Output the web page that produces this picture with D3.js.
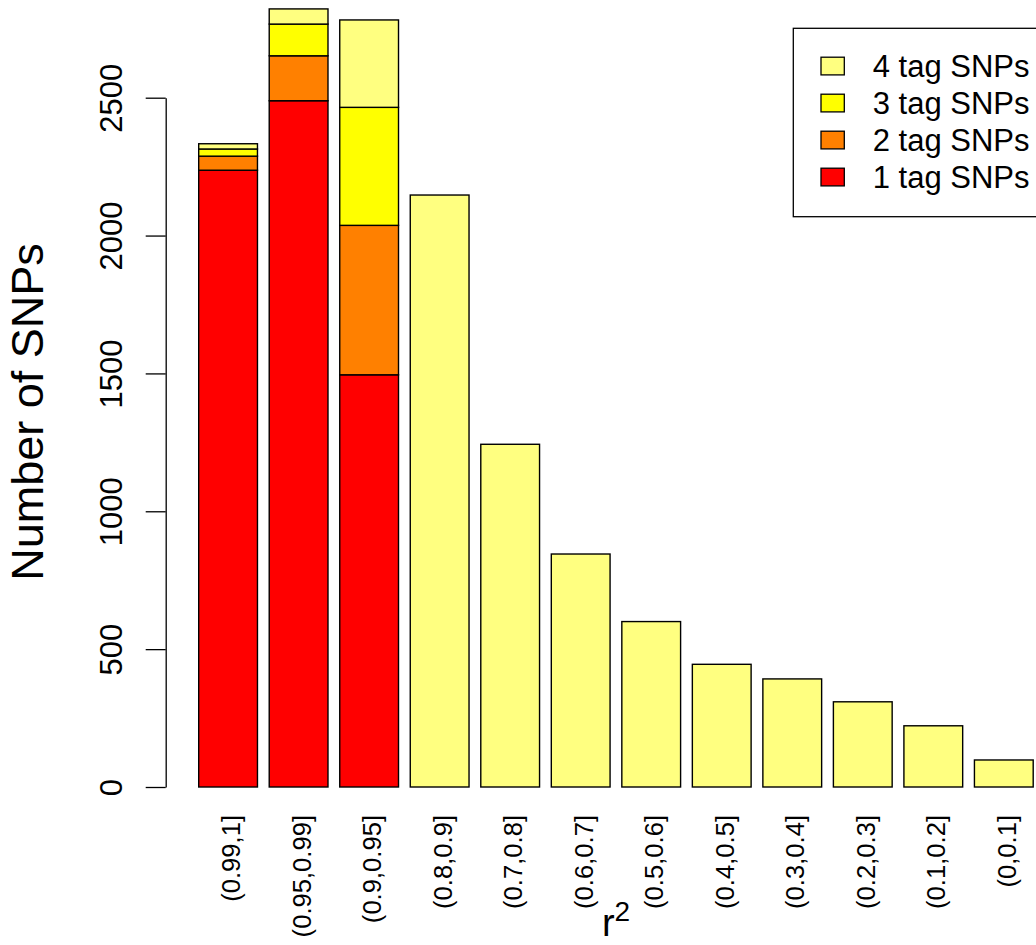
<!DOCTYPE html>
<html>
<head>
<meta charset="utf-8">
<script src="https://cdn.jsdelivr.net/npm/d3@7"></script>
<style>
  body { margin: 0; background: #fff; }
  svg { display: block; font-family: "Liberation Sans", Arial, sans-serif; }
</style>
</head>
<body>
<svg id="chart" width="1036" height="945"></svg>
<script>
// r^2 bins
const categories = ['(0.99,1]', '(0.95,0.99]', '(0.9,0.95]', '(0.8,0.9]', '(0.7,0.8]', '(0.6,0.7]',
  '(0.5,0.6]', '(0.4,0.5]', '(0.3,0.4]', '(0.2,0.3]', '(0.1,0.2]', '(0,0.1]'];

// stacked counts per bin
const oneTag   = [2237, 2489, 1495, 0, 0, 0, 0, 0, 0, 0, 0, 0];
const twoTag   = [51, 163, 542, 0, 0, 0, 0, 0, 0, 0, 0, 0];
const threeTag = [26, 115, 428, 0, 0, 0, 0, 0, 0, 0, 0, 0];
const fourTag  = [19, 55, 317, 2147, 1243, 845, 600, 445, 392, 309, 222, 98];

const seriesNames = ['1 tag SNPs', '2 tag SNPs', '3 tag SNPs', '4 tag SNPs'];
const seriesColors = ['#FF0000', '#FF8000', '#FFFF00', '#FFFF80'];
const yTicks = [0, 500, 1000, 1500, 2000, 2500];

const rows = categories.map((c, i) => ({
  bin: c, s0: oneTag[i], s1: twoTag[i], s2: threeTag[i], s3: fourTag[i]
}));

const svg = d3.select('#chart');

const x = d3.scaleBand()
  .domain(categories)
  .range([198.7, 1033.2])
  .paddingInner(1 / 6)
  .paddingOuter(0);

const y = d3.scaleLinear()
  .domain([0, 2500])
  .range([787, 97.7]);

const stack = d3.stack().keys(['s0', 's1', 's2', 's3']);
const layers = stack(rows);

svg.append('g')
  .selectAll('g')
  .data(layers)
  .enter().append('g')
  .attr('fill', (d, i) => seriesColors[i])
  .selectAll('rect')
  .data(d => d.filter(p => p[1] > p[0]))
  .enter().append('rect')
  .attr('x', d => x(d.data.bin))
  .attr('y', d => y(d[1]))
  .attr('width', x.bandwidth())
  .attr('height', d => y(d[0]) - y(d[1]))
  .attr('stroke', '#000')
  .attr('stroke-width', 1.4);

// y axis
const yAxis = svg.append('g')
  .attr('transform', 'translate(165.7,0)')
  .call(d3.axisLeft(y).tickValues(yTicks).tickFormat(d3.format('d'))
    .tickSize(20).tickSizeOuter(0).tickPadding(0));
yAxis.select('.domain').attr('stroke', '#000').attr('stroke-width', 1.3);
yAxis.selectAll('.tick line').attr('stroke', '#000').attr('stroke-width', 1.3);
yAxis.selectAll('.tick text')
  .attr('x', null).attr('dy', null)
  .attr('transform', 'translate(-44,0) rotate(-90)')
  .attr('text-anchor', 'middle')
  .attr('font-size', 31)
  .attr('font-family', '"Liberation Sans", Arial, sans-serif')
  .attr('fill', '#000');

// x labels
const xAxis = svg.append('g')
  .attr('transform', 'translate(0,815)')
  .call(d3.axisBottom(x).tickSize(0).tickPadding(0));
xAxis.select('.domain').remove();
xAxis.selectAll('.tick text')
  .attr('y', null).attr('dy', null)
  .attr('transform', 'translate(12,0) rotate(-90)')
  .attr('text-anchor', 'end')
  .attr('font-size', 25.6)
  .attr('font-family', '"Liberation Sans", Arial, sans-serif')
  .attr('fill', '#000');

// axis titles
svg.append('text')
  .attr('transform', 'translate(43,412) rotate(-90)')
  .attr('text-anchor', 'middle')
  .attr('font-size', 45)
  .text('Number of SNPs');

const xt = svg.append('text')
  .attr('x', 616)
  .attr('y', 936)
  .attr('text-anchor', 'middle')
  .attr('font-size', 38);
xt.append('tspan').text('r');
xt.append('tspan').attr('font-size', 28).attr('dy', -15).text('2');

// legend
const legend = svg.append('g');
legend.append('rect')
  .attr('x', 793.3).attr('y', 28.3)
  .attr('width', 300).attr('height', 188.4)
  .attr('fill', '#fff').attr('stroke', '#000').attr('stroke-width', 1.3);

const legendOrder = [3, 2, 1, 0];
const item = legend.selectAll('g.item')
  .data(legendOrder)
  .enter().append('g')
  .attr('class', 'item')
  .attr('transform', (d, i) => `translate(0,${66 + i * 37})`);
item.append('rect')
  .attr('x', 821).attr('y', -8.8)
  .attr('width', 23.3).attr('height', 17.7)
  .attr('fill', d => seriesColors[d])
  .attr('stroke', '#000').attr('stroke-width', 1.3);
item.append('text')
  .attr('x', 872.7).attr('y', 11)
  .attr('font-size', 31)
  .text(d => seriesNames[d]);
</script>
</body>
</html>
